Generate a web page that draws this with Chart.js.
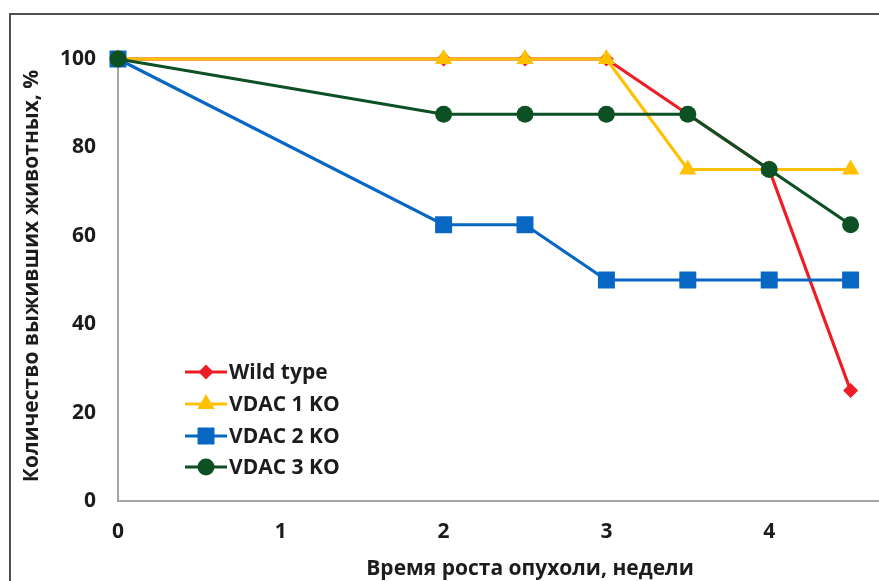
<!DOCTYPE html>
<html>
<head>
<meta charset="utf-8">
<script src="https://cdn.jsdelivr.net/npm/chart.js@4/dist/chart.umd.min.js"></script>
<style>
  html, body { margin:0; padding:0; background:#fff; overflow:hidden; width:879px; height:581px; }
  #wrap { position:absolute; left:0; top:0; width:944px; height:600px; }
  #frame { position:absolute; left:9px; top:13px; width:960px; height:620px; border-left:2px solid #505050; border-top:2px solid #505050; }
  canvas { position:absolute; left:0; top:0; }
</style>
</head>
<body>
<div id="wrap"><div id="frame"></div><canvas id="c" width="944" height="600"></canvas></div>
<script>
const weeks = [0, 2, 2.5, 3, 3.5, 4, 4.5];
const wildType = [100, 100, 100, 100, 87.5, 75, 25];
const vdac1 = [100, 100, 100, 100, 75, 75, 75];
const vdac2 = [100, 62.5, 62.5, 50, 50, 50, 50];
const vdac3 = [100, 87.5, 87.5, 87.5, 87.5, 75, 62.5];
const seriesNames = ['Wild type', 'VDAC 1 KO', 'VDAC 2 KO', 'VDAC 3 KO'];
const xTicks = [0, 1, 2, 3, 4];
const yTicks = [0, 20, 40, 60, 80, 100];
const xTitle = 'Время роста опухоли, недели';
const yTitle = 'Количество выживших животных, %';

const FONT = '"Open Sans", "DejaVu Sans", sans-serif';
const TXT = '#1c1c1c';

function pts(vals) { return weeks.map((w, i) => ({ x: w, y: vals[i] })); }

const styles = [
  { color: '#EE1D25', shape: 'rectRot', r: 7.5, order: 4 },
  { color: '#FFC000', shape: 'triangle', r: 10, order: 3 },
  { color: '#0867C3', shape: 'rect', r: 12, order: 2 },
  { color: '#0C5024', shape: 'circle', r: 8.5, order: 1 }
];
const allVals = [wildType, vdac1, vdac2, vdac3];

const datasets = allVals.map((v, i) => ({
  label: seriesNames[i],
  data: pts(v),
  borderColor: styles[i].color,
  backgroundColor: styles[i].color,
  pointBackgroundColor: styles[i].color,
  pointBorderColor: styles[i].color,
  pointBorderWidth: 0,
  pointStyle: styles[i].shape,
  pointRadius: styles[i].r,
  pointHoverRadius: styles[i].r,
  borderWidth: 3.2,
  tension: 0,
  clip: false,
  order: styles[i].order
}));

function drawShape(ctx, shape, x, y, r, color) {
  ctx.save();
  ctx.fillStyle = color;
  ctx.beginPath();
  if (shape === 'circle') {
    ctx.arc(x, y, r, 0, Math.PI * 2);
  } else if (shape === 'rect') {
    const s = r * Math.SQRT1_2;
    ctx.rect(x - s, y - s, 2 * s, 2 * s);
  } else if (shape === 'rectRot') {
    ctx.moveTo(x, y - r); ctx.lineTo(x + r, y); ctx.lineTo(x, y + r); ctx.lineTo(x - r, y);
    ctx.closePath();
  } else if (shape === 'triangle') {
    const edge = 3 * r / Math.sqrt(3);
    const h = edge * Math.sqrt(3) / 2;
    ctx.moveTo(x - edge / 2, y + h / 3);
    ctx.lineTo(x + edge / 2, y + h / 3);
    ctx.lineTo(x, y - 2 * h / 3);
    ctx.closePath();
  }
  ctx.fill();
  ctx.restore();
}

const overlay = {
  id: 'overlay',
  afterDraw(chart) {
    const ctx = chart.ctx;
    ctx.save();
    const rowY = [372, 404, 436, 467];
    seriesNames.forEach((name, i) => {
      const y = rowY[i];
      ctx.strokeStyle = styles[i].color;
      ctx.lineWidth = 3.2;
      ctx.beginPath(); ctx.moveTo(185, y); ctx.lineTo(227, y); ctx.stroke();
      drawShape(ctx, styles[i].shape, 206, y, styles[i].r, styles[i].color);
      ctx.fillStyle = TXT;
      ctx.font = 'bold 21px ' + FONT;
      ctx.textAlign = 'left';
      ctx.textBaseline = 'middle';
      ctx.fillText(name, 229, y + 1);
    });
    ctx.fillStyle = TXT;
    ctx.font = 'bold 21px ' + FONT;
    ctx.textAlign = 'center';
    ctx.textBaseline = 'middle';
    ctx.fillText(xTitle, 530, 569);
    ctx.translate(32, 276);
    ctx.rotate(-Math.PI / 2);
    ctx.fillText(yTitle, 0, 0);
    ctx.restore();
  }
};

new Chart(document.getElementById('c'), {
  type: 'line',
  data: { datasets },
  options: {
    responsive: false,
    animation: false,
    events: [],
    layout: { padding: { top: 59, right: 0, left: 0, bottom: 0 } },
    plugins: { legend: { display: false }, tooltip: { enabled: false }, title: { display: false } },
    scales: {
      x: {
        type: 'linear',
        min: 0, max: 5,
        afterBuildTicks: s => { s.ticks = xTicks.map(v => ({ value: v })); },
        afterFit: s => { s.height = 99; s.paddingRight = 0; s.paddingLeft = 0; },
        grid: { display: false, drawTicks: false },
        border: { display: true, color: '#A6A6A6', width: 2 },
        ticks: { color: TXT, font: { family: FONT, size: 21, weight: 'bold' }, padding: 18, maxRotation: 0 }
      },
      y: {
        type: 'linear',
        min: 0, max: 100,
        afterBuildTicks: s => { s.ticks = yTicks.map(v => ({ value: v })); },
        afterFit: s => { s.width = 118; },
        grid: { display: false, drawTicks: false },
        border: { display: true, color: '#A6A6A6', width: 2 },
        ticks: { color: TXT, font: { family: FONT, size: 21, weight: 'bold' }, padding: 22 }
      }
    }
  },
  plugins: [overlay]
});
</script>
</body>
</html>
